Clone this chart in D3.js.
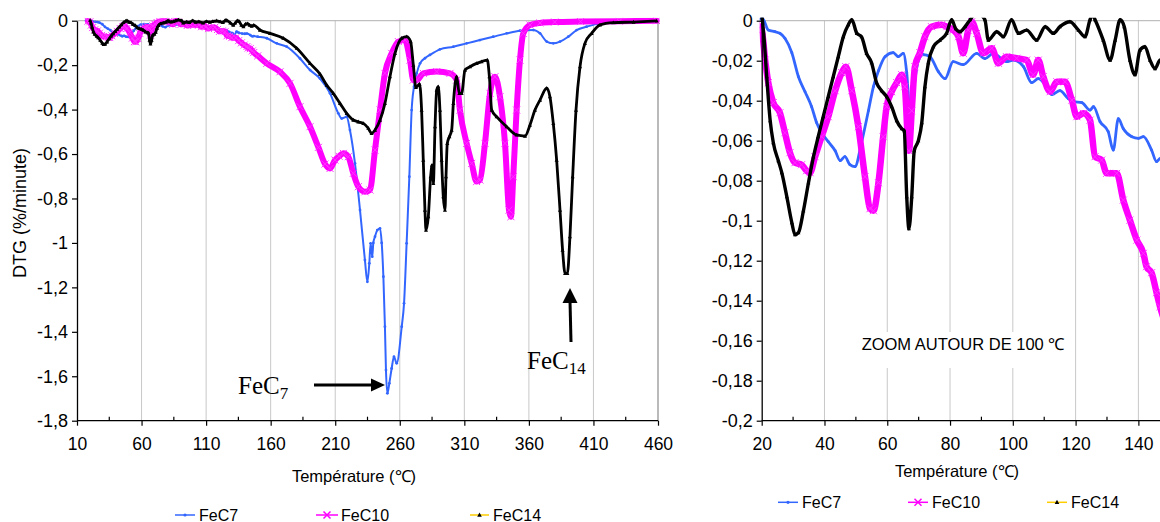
<!DOCTYPE html>
<html><head><meta charset="utf-8">
<script src="https://cdn.jsdelivr.net/npm/d3@7"></script>
<style>
body{margin:0;background:#fff}
svg{display:block}
</style>
</head><body>
<svg id="c" width="1160" height="522" font-family="'Liberation Sans',Arial,sans-serif"></svg>
<script>
// ---------------- DATA ----------------
const seriesNames = ["FeC7", "FeC10", "FeC14"];

// [temperature °C, DTG %/min]
const fec7 = [[17,0],[20.3,0.001],[22.1,-0.0047],[24.2,-0.0055],[25.8,-0.0063],[27.4,-0.0088],[29.6,-0.016],[31.7,-0.028],[33.8,-0.0355],[35.9,-0.043],[37.5,-0.051],[39.1,-0.056],[41.2,-0.0605],[43.4,-0.065],[45,-0.07],[46.5,-0.068],[48.1,-0.072],[49.7,-0.073],[51.8,-0.061],[54,-0.045],[55.6,-0.033],[57.2,-0.025],[59.3,-0.018],[61.9,-0.016],[63.5,-0.018],[65.1,-0.0163],[66.2,-0.026],[67.2,-0.045],[68.3,-0.035],[69.9,-0.020],[71.5,-0.017],[73.6,-0.018],[76.3,-0.0255],[78.4,-0.029],[81,-0.0205],[84.2,-0.022],[88.5,-0.0163],[91.1,-0.019],[93.8,-0.0163],[98,-0.0205],[100.2,-0.0197],[103.4,-0.023],[106,-0.031],[108.1,-0.029],[110.3,-0.032],[112.4,-0.037],[115,-0.035],[117.7,-0.039],[119.3,-0.0405],[122,-0.041],[124.6,-0.0447],[125.7,-0.043],[127.8,-0.0505],[130.4,-0.0555],[132,-0.0647],[133.6,-0.049],[135.2,-0.054],[137.9,-0.058],[140,-0.0588],[141.6,-0.058],[144.2,-0.0647],[145.8,-0.0705],[146.9,-0.069],[150,-0.072],[157,-0.079],[164.7,-0.102],[172.4,-0.117],[182.7,-0.17],[190.5,-0.222],[198.2,-0.26],[206,-0.327],[212.4,-0.417],[215,-0.44],[218.9,-0.432],[221.4,-0.492],[225.3,-0.642],[229.2,-0.852],[233,-1.077],[234.9,-1.175],[236.4,-1.092],[237.4,-1.002],[238.7,-1.062],[239.5,-1.0],[240.8,-0.972],[242.6,-0.942],[244.7,-0.935],[246,-1.0],[247.3,-1.152],[248.5,-1.377],[249.3,-1.572],[250.4,-1.677],[251.9,-1.632],[253.7,-1.565],[255.5,-1.512],[257.6,-1.542],[261.5,-1.377],[263.3,-1.272],[265.3,-1.002],[267.4,-0.702],[269.2,-0.402],[271,-0.297],[273.1,-0.237],[275.7,-0.192],[279.5,-0.169],[283.4,-0.154],[291.1,-0.129],[301.5,-0.117],[311.8,-0.102],[322.1,-0.087],[332.4,-0.072],[342.8,-0.057],[353.1,-0.045],[363.4,-0.042],[368.6,-0.057],[373.8,-0.094],[378.9,-0.102],[384.1,-0.094],[390.5,-0.072],[397,-0.042],[404.7,-0.027],[415.1,-0.012],[430.6,-0.006],[456.4,-0.001]];

const fec10 = [[18.5,-0.002],[20,-0.0047],[21.1,-0.0197],[22.1,-0.031],[23.7,-0.041],[25.8,-0.046],[27.4,-0.056],[29,-0.066],[30.6,-0.071],[32.7,-0.072],[34.3,-0.075],[35.4,-0.076],[37,-0.068],[39.1,-0.058],[41.2,-0.048],[43.4,-0.035],[45.5,-0.026],[46.8,-0.023],[48.7,-0.035],[50.8,-0.053],[52.9,-0.078],[54.5,-0.094],[55.6,-0.095],[57.2,-0.081],[58.7,-0.058],[59.8,-0.043],[61.4,-0.0355],[63,-0.031],[64.6,-0.027],[65.6,-0.033],[66.9,-0.065],[67.8,-0.045],[68.8,-0.023],[70.4,-0.016],[72,-0.008],[74.1,-0.003],[77.3,-0.002],[79,-0.003],[81,-0.0047],[82.7,-0.008],[84.2,-0.0163],[85.8,-0.0047],[86.9,-0.0005],[88.5,-0.0063],[90.6,-0.0163],[93.3,-0.0138],[95.4,-0.0213],[98,-0.018],[101.2,-0.0188],[104.4,-0.0197],[106.5,-0.027],[108.1,-0.0197],[109.7,-0.028],[111.9,-0.0355],[114,-0.0305],[116.6,-0.0305],[118.8,-0.0397],[120.4,-0.048],[122.5,-0.0463],[124.6,-0.0497],[126.2,-0.068],[128.3,-0.0697],[129.9,-0.0763],[133.1,-0.0763],[135.2,-0.0897],[137.3,-0.0997],[139.5,-0.1097],[141.6,-0.1163],[142.6,-0.123],[144.2,-0.126],[145.8,-0.136],[146.9,-0.143],[150,-0.158],[157,-0.192],[167.2,-0.23],[175,-0.282],[182.7,-0.387],[190.5,-0.477],[197,-0.57],[202.1,-0.645],[206,-0.665],[209.8,-0.627],[213,-0.61],[216.3,-0.597],[220.1,-0.612],[224,-0.687],[227.9,-0.747],[233,-0.77],[236.9,-0.762],[240.8,-0.582],[244.7,-0.402],[248.5,-0.237],[253.7,-0.147],[258.9,-0.094],[264,-0.087],[267.9,-0.177],[270.5,-0.267],[273.1,-0.267],[278.2,-0.237],[288.6,-0.229],[298.9,-0.237],[304,-0.267],[306.6,-0.402],[311.8,-0.552],[315.7,-0.642],[319.5,-0.724],[322.1,-0.717],[326,-0.552],[329.9,-0.327],[333.7,-0.252],[337.6,-0.342],[341.5,-0.552],[344.6,-0.852],[346.1,-0.882],[347.9,-0.702],[350.5,-0.402],[353.1,-0.177],[355.7,-0.057],[360.9,-0.019],[368.6,-0.01],[380,-0.006],[400,-0.004],[430,-0.002],[459,0]];

const fec14 = [[20.1,0.002],[20.8,-0.0097],[21.6,-0.028],[22.7,-0.05],[23.7,-0.061],[25.3,-0.07],[26.4,-0.076],[28,-0.088],[29.6,-0.101],[30.6,-0.107],[31.7,-0.106],[33.3,-0.095],[34.9,-0.081],[36.5,-0.068],[38,-0.058],[39.6,-0.048],[41.2,-0.038],[42.8,-0.028],[44.4,-0.018],[46,-0.008],[47.6,-0.002],[48.7,0.0005],[50.3,-0.0063],[51.8,-0.008],[53.4,-0.0163],[55,-0.021],[56.6,-0.031],[58.2,-0.035],[59.8,-0.038],[61.4,-0.043],[63,-0.05],[64.6,-0.054],[65.4,-0.055],[66.2,-0.088],[66.9,-0.104],[67.8,-0.088],[68.6,-0.065],[69.9,-0.06],[71,-0.051],[72,-0.033],[73.1,-0.021],[74.7,-0.013],[76.8,-0.0097],[78.9,-0.0063],[80.5,0.0005],[81.8,-0.004],[83.2,-0.0055],[84.8,-0.003],[86.4,0.0005],[88.5,0.004],[91.1,0.0005],[92.2,-0.0097],[94.9,-0.0055],[97,-0.008],[99.6,0.0005],[101.8,-0.0063],[104.4,-0.0047],[107.6,-0.0097],[110.3,-0.003],[112.9,-0.0063],[115,-0.003],[118.2,-0.0005],[120.9,-0.0047],[123,-0.008],[124.6,0.0005],[125.4,0.003],[126.2,0.0005],[128.8,-0.0097],[131,-0.0197],[132.6,-0.0097],[134.2,0.0005],[135.5,-0.003],[137.3,-0.0197],[138.9,-0.027],[140.5,-0.0147],[142.1,-0.013],[143.7,-0.0197],[145.3,-0.024],[146.9,-0.0197],[151.7,-0.042],[159.5,-0.057],[169.8,-0.079],[180.2,-0.124],[190.5,-0.192],[198.2,-0.24],[203.4,-0.29],[208.5,-0.327],[213.7,-0.372],[218.9,-0.417],[224,-0.447],[227.9,-0.455],[231.8,-0.462],[235.6,-0.484],[238.2,-0.507],[240.8,-0.492],[244.7,-0.447],[248.5,-0.372],[252.4,-0.252],[256.3,-0.147],[261.5,-0.079],[265.3,-0.072],[268.4,-0.094],[270.5,-0.2],[272.5,-0.3],[275.3,-0.285],[276.9,-0.402],[278.2,-0.627],[279.5,-0.852],[280.3,-0.942],[282.1,-0.882],[283.9,-0.702],[285,-0.65],[286,-0.732],[287.3,-0.477],[288.6,-0.312],[289.8,-0.297],[291.1,-0.402],[292.4,-0.627],[293.7,-0.792],[295,-0.852],[295.8,-0.702],[296.8,-0.552],[298.4,-0.522],[300.2,-0.492],[301.5,-0.372],[304,-0.252],[306.1,-0.327],[307.9,-0.327],[310.5,-0.222],[314.4,-0.207],[319.5,-0.192],[323.4,-0.184],[327.8,-0.177],[329.4,-0.252],[331.2,-0.402],[335,-0.432],[342.8,-0.477],[350.5,-0.514],[357,-0.519],[360.8,-0.47],[364.7,-0.402],[368.6,-0.357],[373.8,-0.304],[376.3,-0.342],[378.9,-0.462],[381.5,-0.627],[384.1,-0.852],[386.1,-1.032],[388,-1.137],[389.8,-1.137],[391.8,-0.972],[393.9,-0.702],[396.5,-0.402],[399.6,-0.207],[403.4,-0.102],[408.6,-0.057],[415.1,-0.019],[425.4,-0.009],[441,-0.006],[459,-0.001]];

const leftXTicks  = [10, 60, 110, 160, 210, 260, 310, 360, 410, 460];
const leftYTicks  = [0, -0.2, -0.4, -0.6, -0.8, -1, -1.2, -1.4, -1.6, -1.8];
const rightXTicks = [20, 40, 60, 80, 100, 120, 140];
const rightYTicks = [0, -0.02, -0.04, -0.06, -0.08, -0.1, -0.12, -0.14, -0.16, -0.18, -0.2];

const xTitle = "Température (℃)";
const yTitle = "DTG (%/minute)";
const zoomNote = "ZOOM AUTOUR DE 100 ℃";

// ---------------- DRAW ----------------
const svg = d3.select("#c");
const fr = d3.formatLocale({decimal: ",", thousands: " ", grouping: [3], currency: ["", ""], minus: "-"});
const fmt = fr.format("~g");

const colors = {FeC7: "#3366FF", FeC10: "#FF00FF", FeC14: "#000000"};

function drawChart(cfg) {
  const {id, x, y, xTicks, yTicks, minor, legendY, legendPos, w7, w10, w14} = cfg;
  const g = svg.append("g");
  const [x0, x1] = x.range();
  const [yb, yt] = y.range();
  const xr = Math.min(x1, 1160);

  // gridlines
  g.selectAll(".grid").data(xTicks.filter(d => x(d) > x0 + 1 && x(d) < x1 - 1))
    .join("line")
    .attr("x1", d => x(d)).attr("x2", d => x(d))
    .attr("y1", yt).attr("y2", yb)
    .attr("stroke", "#c8c8c8").attr("stroke-width", 1);
  // top border
  g.append("line").attr("x1", x0).attr("x2", xr).attr("y1", yt).attr("y2", yt)
    .attr("stroke", "#b0b0b0").attr("stroke-width", 1);
  if (x1 <= 1160) {
    g.append("line").attr("x1", x1).attr("x2", x1).attr("y1", yt).attr("y2", yb)
      .attr("stroke", "#8c8c8c").attr("stroke-width", 1.2);
  }

  // clip
  svg.append("clipPath").attr("id", id)
    .append("rect").attr("x", x0 - 2).attr("y", yt - 3)
    .attr("width", xr - x0 + 4).attr("height", yb - yt + 6);

  const plot = g.append("g").attr("clip-path", `url(#${id})`);
  const line = d3.line().x(d => x(d[0])).y(d => y(d[1])).curve(d3.curveMonotoneX);

  // FeC7
  plot.append("path").datum(fec7).attr("d", line)
    .attr("fill", "none").attr("stroke", colors.FeC7).attr("stroke-width", w7)
    .attr("stroke-linejoin", "round");
  plot.selectAll(".m7").data(fec7).join("circle")
    .attr("cx", d => x(d[0])).attr("cy", d => y(d[1])).attr("r", 1.4)
    .attr("fill", colors.FeC7);

  // FeC10
  plot.append("path").datum(fec10).attr("d", line)
    .attr("fill", "none").attr("stroke", colors.FeC10).attr("stroke-width", w10)
    .attr("stroke-linejoin", "round").attr("stroke-linecap", "round");
  plot.selectAll(".m10").data(fec10).join("path")
    .attr("transform", d => `translate(${x(d[0])},${y(d[1])})`)
    .attr("d", "M-3.5,-3.5L3.5,3.5M-3.5,3.5L3.5,-3.5")
    .attr("stroke", "#ff33ff").attr("stroke-width", 1);

  // FeC14
  plot.append("path").datum(fec14).attr("d", line)
    .attr("fill", "none").attr("stroke", colors.FeC14).attr("stroke-width", w14)
    .attr("stroke-linejoin", "round");
  plot.selectAll(".m14").data(fec14).join("path")
    .attr("transform", d => `translate(${x(d[0])},${y(d[1])})`)
    .attr("d", "M0,-2.2L2,1.6L-2,1.6Z").attr("fill", "#000");

  // axes
  const ax = g.append("g").attr("transform", `translate(${x0},0)`)
    .call(d3.axisLeft(y).tickValues(yTicks).tickFormat(fmt).tickSize(5).tickSizeOuter(0).tickPadding(4));
  const bx = g.append("g").attr("transform", `translate(0,${yb})`)
    .call(d3.axisBottom(x).tickValues(xTicks).tickFormat(fmt).tickSize(5).tickSizeOuter(0).tickPadding(12));
  [ax, bx].forEach(a => {
    a.attr("font-family", null).attr("font-size", null);
    a.select(".domain").attr("stroke", "#000").attr("stroke-width", 1.3);
    a.selectAll(".tick line").attr("stroke", "#000").attr("stroke-width", 1.2);
    a.selectAll(".tick text").attr("fill", "#000");
  });
  ax.selectAll(".tick text").attr("font-size", 18);
  bx.selectAll(".tick text").attr("font-size", 17.5);
  bx.select(".domain").attr("d", `M${x0},0H${xr}`);
  // minor ticks (inward)
  g.selectAll(".minor").data(minor).join("line")
    .attr("x1", d => x(d)).attr("x2", d => x(d))
    .attr("y1", yb).attr("y2", yb - 4)
    .attr("stroke", "#000").attr("stroke-width", 1.2);

  // legend
  legendPos.forEach((p, i) => {
    const name = seriesNames[i];
    const lg = g.append("g");
    const stroke = name === "FeC14" ? "#FFCC00" : colors[name];
    lg.append("line").attr("x1", p[0]).attr("x2", p[1]).attr("y1", legendY).attr("y2", legendY)
      .attr("stroke", stroke).attr("stroke-width", 1.5);
    const mx = (p[0] + p[1]) / 2;
    if (name === "FeC7") lg.append("circle").attr("cx", mx).attr("cy", legendY).attr("r", 1.6).attr("fill", colors.FeC7);
    if (name === "FeC10") lg.append("path").attr("transform", `translate(${mx},${legendY})`)
      .attr("d", "M-3.5,-3.5L3.5,3.5M-3.5,3.5L3.5,-3.5").attr("stroke", "#FF00FF").attr("stroke-width", 1.5);
    if (name === "FeC14") lg.append("path").attr("transform", `translate(${mx},${legendY})`)
      .attr("d", "M0,-2.5L2.3,1.8L-2.3,1.8Z").attr("fill", "#000");
    lg.append("text").attr("x", p[2]).attr("y", legendY + 5.5)
      .attr("font-size", 16).attr("fill", "#000").text(name);
  });
  return g;
}

// Left chart
const xL = d3.scaleLinear().domain([10, 460]).range([77, 658]);
const yL = d3.scaleLinear().domain([-1.8, 0]).range([420.7, 20.7]);
drawChart({
  id: "clipL", x: xL, y: yL, xTicks: leftXTicks, yTicks: leftYTicks,
  minor: d3.range(35, 460, 50), legendY: 515,
  legendPos: [[175, 195, 199], [316, 338, 341], [470, 489, 493]], w7: 2, w10: 6, w14: 2.8
});

// Right chart
const xR = d3.scaleLinear().domain([20, 150]).range([761.7, 761.7 + 130 * 3.139]);
const yR = d3.scaleLinear().domain([-0.2, 0]).range([420.7, 20.7]);
drawChart({
  id: "clipR", x: xR, y: yR, xTicks: rightXTicks, yTicks: rightYTicks,
  minor: d3.range(30, 151, 20), legendY: 502.3,
  legendPos: [[778, 798, 802], [908, 928, 932], [1047, 1067, 1071]], w7: 2.8, w10: 6.5, w14: 3.4
});

// Titles
svg.append("text").attr("x", 354).attr("y", 482).attr("text-anchor", "middle")
  .attr("font-size", 16.5).text(xTitle);
svg.append("text").attr("x", 957).attr("y", 477).attr("text-anchor", "middle")
  .attr("font-size", 16.5).text(xTitle);
svg.append("text").attr("transform", "translate(26,213) rotate(-90)").attr("text-anchor", "middle")
  .attr("font-size", 18).text(yTitle);

// Zoom note
svg.append("rect").attr("x", 855).attr("y", 332).attr("width", 215).attr("height", 36).attr("fill", "#fff");
svg.append("text").attr("x", 963).attr("y", 350).attr("text-anchor", "middle")
  .attr("font-size", 16.5).text(zoomNote);

// Annotations (arrows + labels)
const serif = "'Liberation Serif','Times New Roman',serif";
function annot(txt, sub, tx, ty) {
  const t = svg.append("text").attr("x", tx).attr("y", ty).attr("font-family", serif)
    .attr("font-size", 25).attr("fill", "#000").text(txt);
  t.append("tspan").attr("font-size", 17).attr("dy", 5).text(sub);
}
annot("FeC", "7", 238, 394);
annot("FeC", "14", 527, 369);

// FeC7 arrow
svg.append("line").attr("x1", 314).attr("x2", 373).attr("y1", 385).attr("y2", 385)
  .attr("stroke", "#000").attr("stroke-width", 3);
svg.append("path").attr("d", "M385,385L371,378.5L371,391.5Z").attr("fill", "#000");
// FeC14 arrow
svg.append("line").attr("x1", 571).attr("x2", 570).attr("y1", 342).attr("y2", 301)
  .attr("stroke", "#000").attr("stroke-width", 3);
svg.append("path").attr("d", "M570,288L562.5,303L577.5,303Z").attr("fill", "#000");
</script>
</body></html>
